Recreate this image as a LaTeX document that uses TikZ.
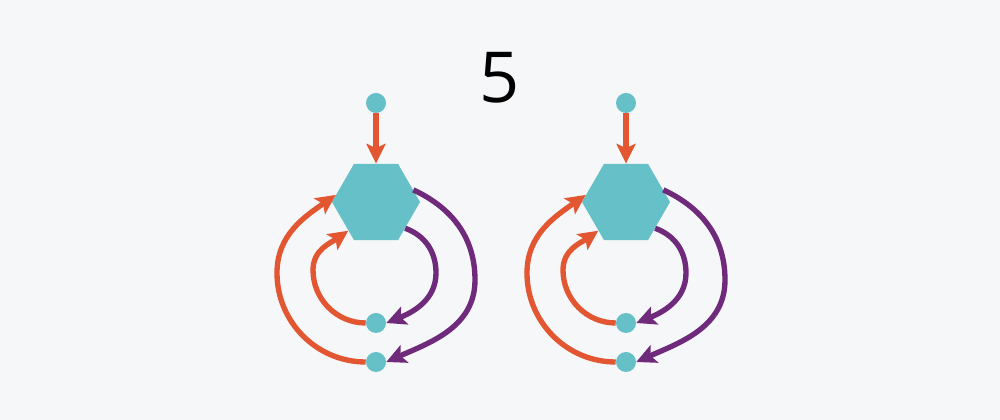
\documentclass[tikz,border=0pt]{standalone}
\usepackage{fontspec}
\newfontfamily\digitfont{Open Sans}
\usepackage{tikz}
\usetikzlibrary{shapes.geometric}
\usetikzlibrary{arrows.meta}
\definecolor{bgcol}{HTML}{F5F7F9}
\definecolor{tealc}{HTML}{66C0C7}
\definecolor{orng}{HTML}{E25632}
\definecolor{purp}{HTML}{702A7C}

\begin{document}
\begin{tikzpicture}[x=0.025cm, y=0.025cm,
    dot/.style={circle, fill=tealc, minimum size=0.5cm, inner sep=0pt},
    hexa/.style={regular polygon, regular polygon sides=6, fill=tealc, minimum size=2.2cm, inner sep=0pt},
    orangeline/.style={draw=orng, line width=3.8pt, -{Stealth[length=14pt, width=13.5pt, inset=3pt]}},
    purpleline/.style={draw=purp, line width=3.8pt, -{Stealth[length=14pt, width=13.5pt, inset=3pt]}}]
    \fill[bgcol] (0,0) rectangle (1000,420);
    \useasboundingbox (0,0) rectangle (1000,420);

    \node[inner sep=0pt, font=\digitfont\fontsize{50}{60}\selectfont] (num) at (500,342) {5};

    % left loop pair
    \node[hexa] (h1) at (376,218) {};
    \node[dot] (t1) at (376,317) {};
    \node[dot] (m1) at (376,97) {};
    \node[dot] (b1) at (376,58) {};
    \coordinate (oo1) at (277,147);
    \coordinate (oi1) at (313,150);
    \coordinate (po1) at (475,140);
    \coordinate (pi1) at (436,147);

    \draw[orangeline] (t1) -- (h1);
    \draw[orangeline] (b1.west) to[out=180, in=270] (oo1) to[out=90, in=215] (h1.170);
    \draw[orangeline] (m1.west) to[out=180, in=270] (oi1) to[out=90, in=215] (h1.226);
    \draw[purpleline] (h1.18) to[out=-25, in=90] (po1) to[out=270, in=24] (b1.east);
    \draw[purpleline] (h1.318) to[out=-20, in=90] (pi1) to[out=270, in=22] (m1.east);

    % right loop pair
    \node[hexa] (h2) at (626,218) {};
    \node[dot] (t2) at (626,317) {};
    \node[dot] (m2) at (626,97) {};
    \node[dot] (b2) at (626,58) {};
    \coordinate (oo2) at (527,147);
    \coordinate (oi2) at (563,150);
    \coordinate (po2) at (725,140);
    \coordinate (pi2) at (686,147);

    \draw[orangeline] (t2) -- (h2);
    \draw[orangeline] (b2.west) to[out=180, in=270] (oo2) to[out=90, in=215] (h2.170);
    \draw[orangeline] (m2.west) to[out=180, in=270] (oi2) to[out=90, in=215] (h2.226);
    \draw[purpleline] (h2.18) to[out=-25, in=90] (po2) to[out=270, in=24] (b2.east);
    \draw[purpleline] (h2.318) to[out=-20, in=90] (pi2) to[out=270, in=22] (m2.east);
\end{tikzpicture}
\end{document}
